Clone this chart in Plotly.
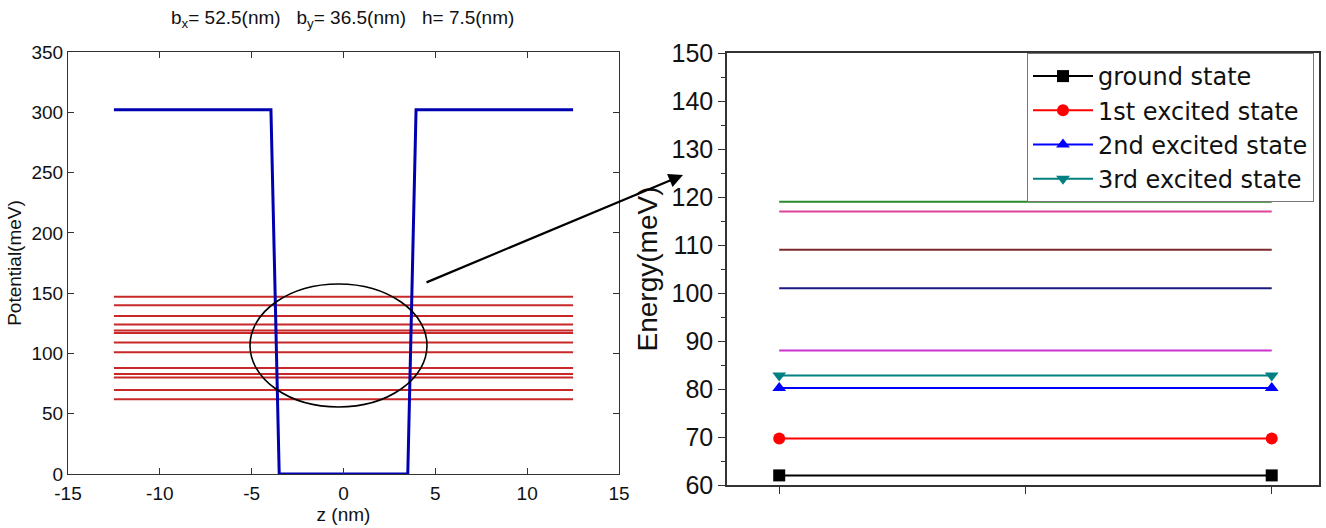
import plotly.graph_objects as go

W, H = 1326, 528

# ---------------- data ----------------
# left panel: confinement potential profile
z_pot = [-12.5, -3.95, -3.5, 3.5, 3.95, 12.5]
v_pot = [302, 302, 0, 0, 302, 302]
# left panel: energy levels (meV) drawn across the whole z range
z_span = [-12.5, 12.5]
levels_left = [62, 69.7, 80, 83, 88, 101, 109, 117, 119, 124, 131, 140, 147]
z_ticks = [-15, -10, -5, 0, 5, 10, 15]
z_ticklabels = ["-15", "-10", "-5", "0", "5", "10", "15"]

# right panel: energy levels
x_pts = [1, 2]
legend_states = ["ground state", "1st excited state", "2nd excited state", "3rd excited state"]
legend_energies = [62, 69.7, 80.2, 82.8]
legend_colors = ["#000000", "#ff0000", "#0000ff", "#008080"]
legend_symbols = ["square", "circle", "triangle-up", "triangle-down"]
extra_energies = [88, 101, 109, 117, 119]
extra_colors = ["#cc33cc", "#1a1a80", "#7a2a2a", "#dd4499", "#2a8a2a"]

title_text = "b<sub>x</sub>= 52.5(nm)   b<sub>y</sub>= 36.5(nm)   h= 7.5(nm)"

# ---------------- figure ----------------
fig = go.Figure()

# red energy levels in left panel
xs, ys = [], []
for lv in levels_left:
    xs += [z_span[0], z_span[1], None]
    ys += [lv, lv, None]
fig.add_trace(go.Scatter(x=xs, y=ys, mode="lines", line=dict(color="#c82828", width=2),
                         xaxis="x", yaxis="y", showlegend=False, hoverinfo="skip"))
# potential
fig.add_trace(go.Scatter(x=z_pot, y=v_pot, mode="lines", line=dict(color="#0000b0", width=3),
                         xaxis="x", yaxis="y", showlegend=False))

# right panel: extra levels (no legend)
for e, c in zip(extra_energies, extra_colors):
    fig.add_trace(go.Scatter(x=x_pts, y=[e, e], mode="lines", line=dict(color=c, width=2),
                             xaxis="x2", yaxis="y2", showlegend=False))
# right panel: legend states
for name, e, c, s in zip(legend_states, legend_energies, legend_colors, legend_symbols):
    fig.add_trace(go.Scatter(x=x_pts, y=[e, e], mode="lines+markers", name=name,
                             line=dict(color=c, width=2),
                             marker=dict(symbol=s, size=12, color=c),
                             xaxis="x2", yaxis="y2"))

def px(x):
    return x / W

def py(y):
    return 1 - y / H

FAM = "Liberation Sans, Arial, sans-serif"
left_font = dict(family=FAM, size=19, color="#111111")
right_font = dict(family=FAM, size=25, color="#111111")

fig.update_layout(
    width=W, height=H,
    margin=dict(l=0, r=0, t=0, b=0),
    paper_bgcolor="white", plot_bgcolor="white",
    font=left_font,
    xaxis=dict(domain=[px(68), px(619)], range=[-15, 15], tickvals=z_ticks, ticktext=z_ticklabels,
               showgrid=False, zeroline=False, showline=True, linecolor="#333333", linewidth=1,
               mirror="allticks", ticks="inside", ticklen=6, tickcolor="#333333",
               tickfont=left_font, automargin=False, ticklabelstandoff=2,
               title=dict(text="z (nm)", font=left_font, standoff=2)),
    yaxis=dict(domain=[py(474), py(52)], range=[0, 350], dtick=50,
               showgrid=False, zeroline=False, showline=True, linecolor="#333333", linewidth=1,
               mirror="allticks", ticks="inside", ticklen=6, tickcolor="#333333",
               tickfont=left_font, automargin=False, anchor="x",
               title=dict(text="Potential(meV)", font=left_font, standoff=4)),
    xaxis2=dict(domain=[px(727), px(1319)], range=[0.894, 2.096], tickvals=[1, 1.5, 2],
                showticklabels=False, anchor="y2",
                showgrid=False, zeroline=False, showline=True, linecolor="#333333", linewidth=1.5,
                mirror=True, ticks="outside", ticklen=7, tickcolor="#333333", automargin=False),
    yaxis2=dict(domain=[py(485), py(53)], range=[60, 150], dtick=10, anchor="x2",
                showgrid=False, zeroline=False, showline=True, linecolor="#333333", linewidth=1.5,
                mirror=True, ticks="outside", ticklen=7, tickcolor="#333333",
                minor=dict(dtick=5, ticks="outside", ticklen=4, tickcolor="#333333"),
                tickfont=right_font, automargin=False,
                title=dict(text="Energy(meV)", font=dict(family=FAM, size=28, color="#111111"),
                           standoff=6)),
    legend=dict(x=px(1027), y=py(53), xanchor="left", yanchor="top",
                bgcolor="white", bordercolor="#777777", borderwidth=1,
                font=dict(family="DejaVu Sans, sans-serif", size=24, color="#111111"),
                itemwidth=60, tracegroupgap=0),
    showlegend=True,
)

# title
fig.add_annotation(text=title_text, xref="paper", yref="paper", x=px(342), y=py(19),
                   showarrow=False, font=dict(family=FAM, size=19, color="#111111"),
                   xanchor="center", yanchor="middle")

# ellipse highlight
fig.add_shape(type="circle", xref="paper", yref="paper",
              x0=px(250), x1=px(427), y0=py(407), y1=py(284),
              line=dict(color="black", width=1.6))

# arrow to right panel
fig.add_annotation(xref="paper", yref="paper", axref="pixel", ayref="pixel",
                   x=px(683), y=py(175), ax=425 - 683, ay=283 - 175,
                   showarrow=True, arrowhead=2, arrowsize=1.3, arrowwidth=2.2, arrowcolor="black",
                   text="")

fig.write_html("out.html", config={"displayModeBar": False},
               post_script="document.body.style.margin='0';")
